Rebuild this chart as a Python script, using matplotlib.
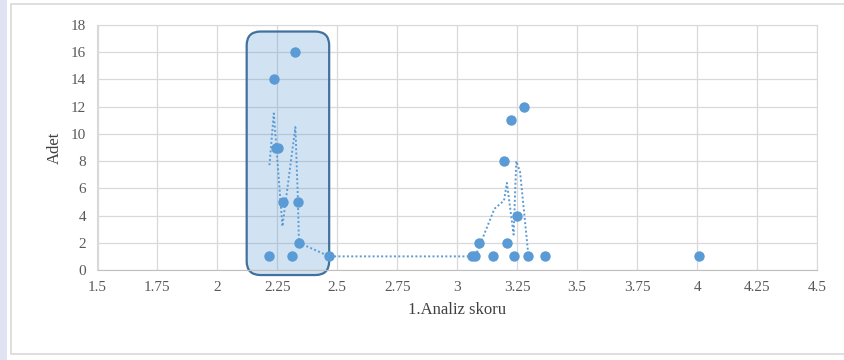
import matplotlib.pyplot as plt
from matplotlib.patches import FancyBboxPatch, Rectangle

plt.rcParams["font.family"] = "serif"
plt.rcParams["font.serif"] = ["Liberation Serif", "DejaVu Serif"]

# scatter data: 1.Analiz skoru vs Adet
score = [2.217, 2.235, 2.244, 2.252, 2.273, 2.310, 2.325, 2.335, 2.340, 2.467,
         3.061, 3.075, 3.089, 3.151, 3.197, 3.207, 3.225, 3.237, 3.249, 3.279,
         3.297, 3.367, 4.010]
count = [1, 14, 9, 9, 5, 1, 16, 5, 2, 1,
         1, 1, 2, 1, 8, 2, 11, 1, 4, 12,
         1, 1, 1]

# moving-average trendline
trend_x = [2.217, 2.235, 2.246, 2.271, 2.325, 2.335, 2.340, 2.467,
           3.061, 3.075, 3.089, 3.155, 3.195, 3.207, 3.235, 3.246, 3.262, 3.297]
trend_y = [7.7, 11.5, 9.0, 3.2, 10.5, 5.5, 2.0, 1.0,
           1.0, 1.0, 1.6, 4.5, 5.1, 6.4, 2.6, 8.0, 7.2, 1.0]

xticks = [1.5, 1.75, 2, 2.25, 2.5, 2.75, 3, 3.25, 3.5, 3.75, 4, 4.25, 4.5]
xlabels = ["1.5", "1.75", "2", "2.25", "2.5", "2.75", "3", "3.25", "3.5",
           "3.75", "4", "4.25", "4.5"]
yticks = list(range(0, 19, 2))

# highlighted group (x range, y range)
box_x = (2.122, 2.466)
box_y = (-0.37, 17.52)

BLUE = "#5b9bd5"

fig = plt.figure(figsize=(8.45, 3.6), dpi=100)
fig.patch.set_facecolor("white")

# page strip on the left and the chart frame (behind the axes)
fig.add_artist(Rectangle((0, 0), 7 / 845, 1, transform=fig.transFigure,
                         facecolor="#dfe3f2", edgecolor="none", zorder=-2))
fig.add_artist(Rectangle((11 / 845, 6 / 360), 1, 350 / 360, transform=fig.transFigure,
                         facecolor="white", edgecolor="#d9d9d9", lw=1.2, zorder=-1))

ax = fig.add_axes([97.5 / 845, 90 / 360, 719.5 / 845, 245 / 360])
ax.set_facecolor("none")
ax.set_xlim(1.5, 4.5)
ax.set_ylim(0, 18)
ax.set_xticks(xticks)
ax.set_xticklabels(xlabels)
ax.set_yticks(yticks)
ax.grid(True, color="#d9d9d9", lw=0.9)
ax.set_axisbelow(True)
for s in ax.spines.values():
    s.set_color("#d9d9d9")
ax.spines["bottom"].set_color("#bfbfbf")
ax.tick_params(length=0, labelsize=11, colors="#595959", pad=8)
ax.set_xlabel("1.Analiz skoru", fontsize=12, color="#404040", labelpad=6)
ax.set_ylabel("Adet", fontsize=12, color="#404040", labelpad=6)

# rounded highlight box; mutation_aspect keeps the corners round on screen
rect = FancyBboxPatch((box_x[0], box_y[0]), box_x[1] - box_x[0], box_y[1] - box_y[0],
                      boxstyle="round,pad=0,rounding_size=0.058",
                      mutation_aspect=17.6,
                      facecolor=(0.357, 0.608, 0.835, 0.28), edgecolor="#41719c",
                      lw=1.6, clip_on=False, zorder=1)
ax.add_patch(rect)

ax.plot(trend_x, trend_y, color=BLUE, lw=1.4, ls=(0, (1, 1.2)), zorder=3)
ax.plot(score, count, "o", color=BLUE, ms=7.5, mec="none", zorder=4, clip_on=False)

fig.savefig("out.png", dpi=100, facecolor="white")
